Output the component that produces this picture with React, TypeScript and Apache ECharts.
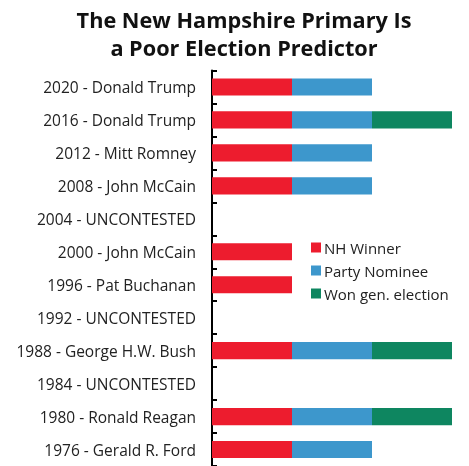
import React, { useEffect, useRef } from "react";
import * as echarts from "echarts";

const categories = [
  "2020 - Donald Trump",
  "2016 - Donald Trump",
  "2012 - Mitt Romney",
  "2008 - John McCain",
  "2004 - UNCONTESTED",
  "2000 - John McCain",
  "1996 - Pat Buchanan",
  "1992 - UNCONTESTED",
  "1988 - George H.W. Bush",
  "1984 - UNCONTESTED",
  "1980 - Ronald Reagan",
  "1976 - Gerald R. Ford",
];
const nhWinner = [1, 1, 1, 1, 0, 1, 1, 0, 1, 0, 1, 1];
const partyNominee = [1, 1, 1, 1, 0, 0, 0, 0, 1, 0, 1, 1];
const wonGeneral = [0, 1, 0, 0, 0, 0, 0, 0, 1, 0, 1, 0];
const seriesNames = ["NH Winner", "Party Nominee", "Won gen. election"];
const colors = ["#ED1C2E", "#3D97CC", "#0E8660"];

const FONT = "Open Sans";

export default function App() {
  const ref = useRef<HTMLDivElement>(null);
  useEffect(() => {
    if (!ref.current) return;
    const chart = echarts.init(ref.current, undefined, { renderer: "svg" });
    const data = [nhWinner, partyNominee, wonGeneral];
    chart.setOption({
      animation: false,
      textStyle: { fontFamily: FONT },
      title: {
        text: "The New Hampshire Primary Is\na Poor Election Predictor",
        left: 244,
        top: 5,
        padding: 0,
        textAlign: "center",
        textStyle: {
          fontFamily: FONT,
          fontSize: 21.7,
          fontWeight: "bold",
          color: "#111",
          lineHeight: 28,
        },
      },
      legend: {
        orient: "vertical",
        left: 306,
        top: 235,
        icon: "rect",
        itemWidth: 10,
        itemHeight: 10,
        itemGap: 8,
        textStyle: { fontFamily: FONT, fontSize: 15, color: "#222", padding: [0, 0, 0, -2] },
        data: seriesNames,
      },
      grid: { left: 212, right: 17, top: 70.5, bottom: -1.5, containLabel: false },
      xAxis: {
        type: "value",
        min: 0,
        max: 3,
        show: false,
      },
      yAxis: {
        type: "category",
        inverse: true,
        data: categories,
        axisLine: { show: true, lineStyle: { color: "#000", width: 2 } },
        axisTick: { show: true, inside: true, length: 5, lineStyle: { color: "#000", width: 2 } },
        axisLabel: { fontFamily: FONT, fontSize: 15.5, color: "#222", margin: 16 },
      },
      series: seriesNames.map((name, i) => ({
        name,
        type: "bar",
        stack: "total",
        data: data[i],
        barWidth: "52%",
        itemStyle: { color: colors[i] },
      })),
    });
    return () => chart.dispose();
  }, []);
  return (
    <div
      ref={ref}
      style={{ position: "fixed", left: 0, top: 0, width: 469, height: 466 }}
    />
  );
}
